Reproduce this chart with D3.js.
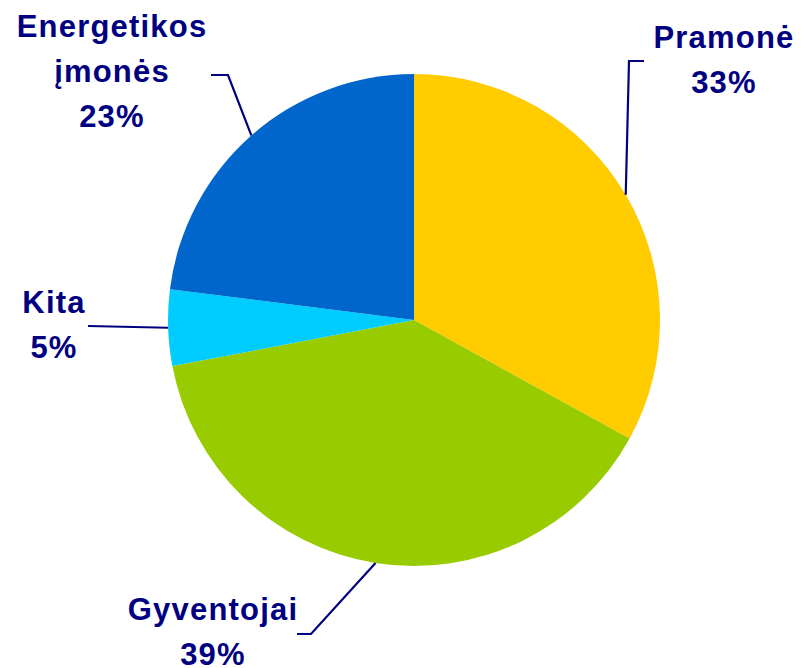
<!DOCTYPE html>
<html><head><meta charset="utf-8">
<script src="https://cdn.jsdelivr.net/npm/d3@7"></script>
<style>body{margin:0;background:#fff}</style>
</head><body>
<svg id="c" width="803" height="668"></svg>
<script>
const categories = ["Pramonė", "Gyventojai", "Kita", "Energetikos įmonės"];
const values = [33, 39, 5, 23];
const labelLines = [["Pramonė", "33%"], ["Gyventojai", "39%"], ["Kita", "5%"], ["Energetikos", "įmonės", "23%"]];
const colors = ["#FFCC00", "#99CC00", "#00CCFF", "#0066CC"];

const svg = d3.select("#c");
const cx = 414, cy = 320, r = 246;
const g = svg.append("g").attr("transform", `translate(${cx},${cy})`);
const pie = d3.pie().sort(null).value(d => d)(values);
const arc = d3.arc().innerRadius(0).outerRadius(r);
const edge = d3.arc().innerRadius(r).outerRadius(r);

g.selectAll("path.s").data(pie).join("path")
  .attr("class", "s").attr("d", arc).attr("fill", (d, i) => colors[i]);

// label layout (elbow points and text anchors, relative to centre)
const layout = [
  {elbow: [[215, -259], [230, -259]], tx: 310, ty: -272},
  {elbow: [[-103, 314], [-117, 314]], tx: -201, ty: 300},
  {elbow: [[-326, 6]], tx: -360, ty: -7},
  {elbow: [[-186, -245], [-203, -245]], tx: -302, ty: -283}
];
const navy = "#000080";
pie.forEach((d, i) => {
  const p = edge.centroid(d);
  const pts = [p].concat(layout[i].elbow);
  g.append("path").attr("d", d3.line()(pts)).attr("fill", "none")
    .attr("stroke", navy).attr("stroke-width", 2.2);
  const t = g.append("text").attr("text-anchor", "middle")
    .attr("font-family", "Liberation Sans, Arial, sans-serif")
    .attr("font-weight", "bold").attr("font-size", 31)
    .attr("letter-spacing", "1.2px").attr("fill", navy);
  labelLines[i].forEach((s, j) => {
    t.append("tspan").attr("x", layout[i].tx).attr("y", layout[i].ty + j * 45).text(s);
  });
});
</script>
</body></html>
